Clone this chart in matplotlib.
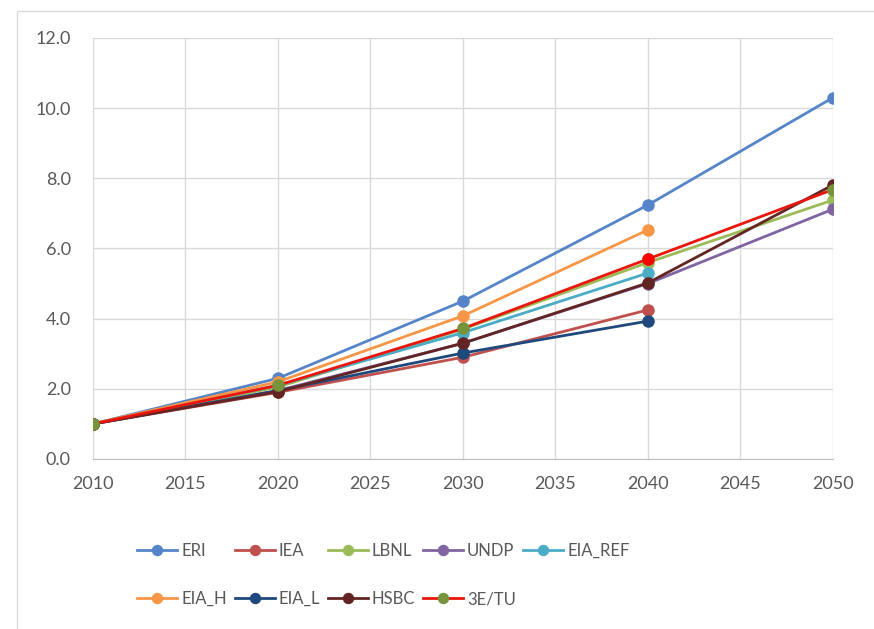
import matplotlib.pyplot as plt
from matplotlib.patches import Rectangle

years = [2010, 2020, 2030, 2040, 2050]
eri = [1.0, 2.3, 4.5, 7.24, 10.3]
iea = [1.0, 1.9, 2.9, 4.25, None]
lbnl = [1.0, 2.05, 3.7, 5.6, 7.38]
undp = [1.0, 1.95, 3.3, 5.0, 7.12]
eia_ref = [1.0, 2.1, 3.6, 5.3, None]
eia_h = [1.0, 2.2, 4.08, 6.53, None]
eia_l = [1.0, 1.95, 3.02, 3.93, None]
hsbc = [1.0, 1.92, 3.3, 5.02, 7.81]
tu = [1.0, 2.1, 3.72, 5.7, 7.68]

names = ["ERI", "IEA", "LBNL", "UNDP", "EIA_REF", "EIA_H", "EIA_L", "HSBC", "3E/TU"]
series = [eri, iea, lbnl, undp, eia_ref, eia_h, eia_l, hsbc, tu]
line_cols = ["#5585C8", "#C0504D", "#9BBB59", "#8064A2", "#4BACC6",
             "#F79646", "#1F497D", "#632523", "#E8160C"]
mark_cols = ["#5585C8", "#C0504D", "#9BBB59", "#8064A2", "#4BACC6",
             "#F79646", "#1F497D", "#632523", "#77933C"]

plt.rcParams['font.family'] = ['Lato', 'DejaVu Sans']

fig = plt.figure(figsize=(8.74, 6.29), dpi=100)
fig.patches.append(Rectangle((0.019, -0.01), 0.99, 0.993, transform=fig.transFigure,
                             fill=False, edgecolor="#D9D9D9", lw=1))
ax = fig.add_axes([0.1064, 0.2703, 0.8466, 0.6693])

handles = {}
for name, vals, lc, mc in zip(names, series, line_cols, mark_cols):
    xs = [y for y, v in zip(years, vals) if v is not None]
    vs = [v for v in vals if v is not None]
    h, = ax.plot(xs, vs, '-o', color=lc, lw=2.0, ms=8, mfc=mc, mec=mc, label=name)
    handles[name] = h

# the 2040 point of 3E/TU shows in red
ax.plot(years[3], tu[3], 'o', color="#FF0000", ms=8)

ax.set_xlim(2010, 2050)
ax.set_ylim(0, 12)
ax.set_xticks(range(2010, 2051, 5))
ax.set_yticks([0, 2, 4, 6, 8, 10, 12])
ax.set_yticklabels(["%.1f" % v for v in [0, 2, 4, 6, 8, 10, 12]])
ax.grid(True, color="#D9D9D9", lw=1)
ax.set_axisbelow(True)
for s in ["top", "right", "left"]:
    ax.spines[s].set_visible(False)
ax.spines["bottom"].set_color("#BFBFBF")
ax.tick_params(length=0, labelsize=13, colors="#595959", pad=12)
ax.tick_params(axis='y', pad=16)

# legend is filled column by column, so order it to read row by row
order = ["ERI", "EIA_H", "IEA", "EIA_L", "LBNL", "HSBC", "UNDP", "3E/TU", "EIA_REF"]
leg = fig.legend([handles[n] for n in order], order, loc="lower left",
                 bbox_to_anchor=(0.14, 0.011), ncol=5, frameon=False,
                 fontsize=12, handlelength=2.4, columnspacing=0.45, labelspacing=1.95,
                 handletextpad=0.25, markerscale=0.9)
for t in leg.get_texts():
    t.set_color("#595959")

fig.savefig("out.png", dpi=100)
